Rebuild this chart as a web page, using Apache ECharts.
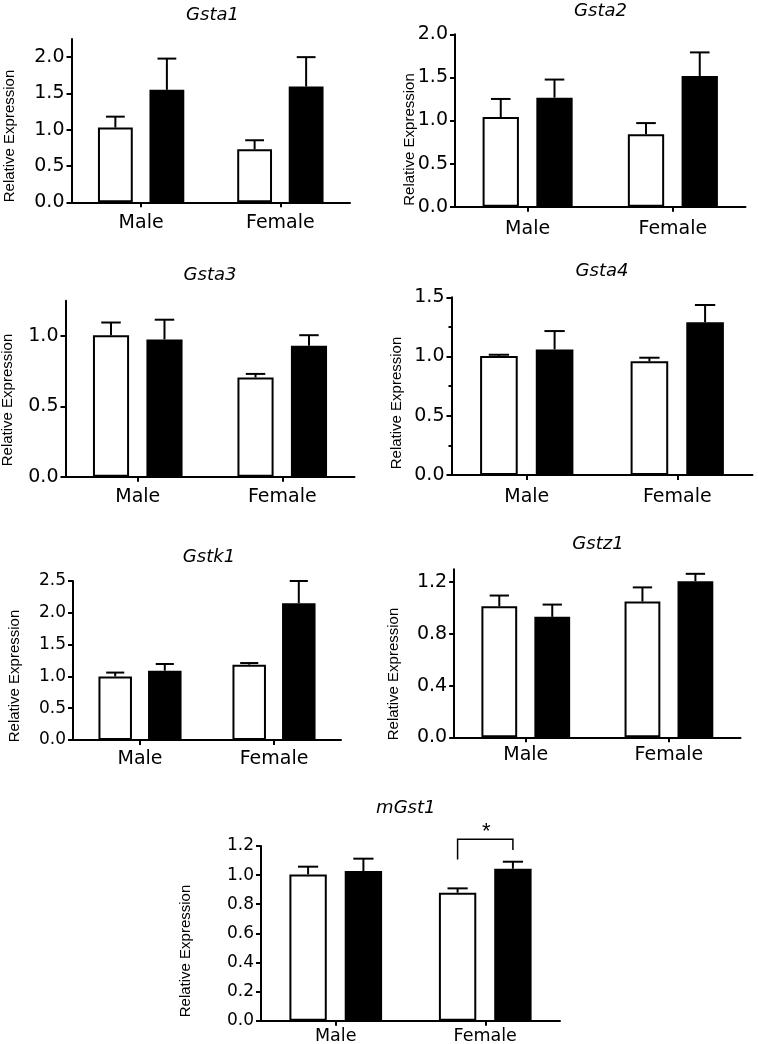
<!DOCTYPE html>
<html>
<head>
<meta charset="utf-8">
<script src="https://cdn.jsdelivr.net/npm/echarts@6/dist/echarts.min.js"></script>
<style>
html,body{margin:0;padding:0;background:#fff;}
#chart{width:758px;height:1044px;}
</style>
</head>
<body>
<div id="chart"></div>
<script>
// ---------- data ----------
const categories = ['Male', 'Female'];
const geneNames = ['Gsta1', 'Gsta2', 'Gsta3', 'Gsta4', 'Gstk1', 'Gstz1', 'mGst1'];
const yAxisTitle = 'Relative Expression';

// open (white) bars and filled (black) bars, with SEM
const gsta1Open = [1.03, 0.73];
const gsta1OpenSem = [0.15, 0.125];
const gsta1Filled = [1.55, 1.595];
const gsta1FilledSem = [0.43, 0.405];

const gsta2Open = [1.04, 0.84];
const gsta2OpenSem = [0.21, 0.13];
const gsta2Filled = [1.265, 1.515];
const gsta2FilledSem = [0.21, 0.275];

const gsta3Open = [1.005, 0.705];
const gsta3OpenSem = [0.09, 0.025];
const gsta3Filled = [0.975, 0.93];
const gsta3FilledSem = [0.14, 0.075];

const gsta4Open = [1.005, 0.96];
const gsta4OpenSem = [0.01, 0.03];
const gsta4Filled = [1.06, 1.29];
const gsta4FilledSem = [0.155, 0.145];

const gstk1Open = [1.0, 1.185];
const gstk1OpenSem = [0.06, 0.025];
const gstk1Filled = [1.09, 2.15];
const gstk1FilledSem = [0.105, 0.35];

const gstz1Open = [1.014, 1.05];
const gstz1OpenSem = [0.083, 0.11];
const gstz1Filled = [0.932, 1.208];
const gstz1FilledSem = [0.095, 0.057];

const mgst1Open = [1.005, 0.879];
const mgst1OpenSem = [0.053, 0.03];
const mgst1Filled = [1.028, 1.044];
const mgst1FilledSem = [0.085, 0.048];

// y-axis tick values and axis maxima
const gsta1Ticks = [0, 0.5, 1.0, 1.5, 2.0];
const gsta2Ticks = [0, 0.5, 1.0, 1.5, 2.0];
const gsta3Ticks = [0, 0.5, 1.0];
const gsta4Ticks = [0, 0.5, 1.0, 1.5];
const gstk1Ticks = [0, 0.5, 1.0, 1.5, 2.0, 2.5];
const gstz1Ticks = [0, 0.4, 0.8, 1.2];
const mgst1Ticks = [0, 0.2, 0.4, 0.6, 0.8, 1.0, 1.2];
const axisMax = [2.25, 2.0, 1.25, 1.5, 2.5, 1.3, 1.2];

// significance bracket on mGst1 (Female): [top, left leg end, right leg end]
const mgst1Bracket = [1.246, 1.108, 1.172];
const mgst1BracketCategory = 1;
const mgst1BracketLabel = '*';

// ---------- assembly ----------
const panels = [
  {open: gsta1Open, openSem: gsta1OpenSem, filled: gsta1Filled, filledSem: gsta1FilledSem, ticks: gsta1Ticks},
  {open: gsta2Open, openSem: gsta2OpenSem, filled: gsta2Filled, filledSem: gsta2FilledSem, ticks: gsta2Ticks},
  {open: gsta3Open, openSem: gsta3OpenSem, filled: gsta3Filled, filledSem: gsta3FilledSem, ticks: gsta3Ticks},
  {open: gsta4Open, openSem: gsta4OpenSem, filled: gsta4Filled, filledSem: gsta4FilledSem, ticks: gsta4Ticks, minor: true},
  {open: gstk1Open, openSem: gstk1OpenSem, filled: gstk1Filled, filledSem: gstk1FilledSem, ticks: gstk1Ticks},
  {open: gstz1Open, openSem: gstz1OpenSem, filled: gstz1Filled, filledSem: gstz1FilledSem, ticks: gstz1Ticks},
  {open: mgst1Open, openSem: mgst1OpenSem, filled: mgst1Filled, filledSem: mgst1FilledSem, ticks: mgst1Ticks}
];

// layout (pixels)
const layout = [
  {left: 71.5, top: 39, width: 278.5, height: 163.3, tx: 212.5, ty: 15, yx: 9.5, yy: 136, num: 19, cat: 19, cm: 11},
  {left: 455, top: 34.3, width: 290.5, height: 172.4, tx: 600.5, ty: 11, yx: 410, yy: 139.5, num: 19, cat: 19, cm: 12.5},
  {left: 65.5, top: 300.7, width: 289, height: 176, tx: 210, ty: 275.5, yx: 8, yy: 400, num: 19, cat: 19, cm: 11},
  {left: 451.5, top: 297.3, width: 301, height: 177.7, tx: 602, ty: 271, yx: 397, yy: 403, num: 19, cat: 19, cm: 12.5},
  {left: 73, top: 581, width: 268, height: 159, tx: 209, ty: 557, yx: 15, yy: 676, num: 17, cat: 19, cm: 9.5},
  {left: 454.2, top: 569.3, width: 286.3, height: 168, tx: 598, ty: 544.5, yx: 394.3, yy: 674, num: 19, cat: 19, cm: 8.5},
  {left: 261, top: 846, width: 299, height: 174.7, tx: 405.8, ty: 808.5, yx: 186.2, yy: 951, num: 17, cat: 17.5, cm: 7}
];

const BAR_W = 0.25;
const BAR_GAP = 0.48;
const BAR_OFFSET = BAR_W * (1 + BAR_GAP) / 2;
const CAP_W = 0.135;
const BLACK = '#000000';

function errorRender(params, api) {
  const ci = api.value(0), v = api.value(1), e = api.value(2), side = api.value(3);
  const band = api.size([1, 0])[0];
  const base = api.coord([ci, v]);
  const top = api.coord([ci, v + e]);
  const x = base[0] + side * band * BAR_OFFSET;
  const cap = band * CAP_W;
  return {
    type: 'group',
    children: [
      {type: 'line', shape: {x1: x, y1: base[1], x2: x, y2: top[1]}, style: {stroke: BLACK, lineWidth: 2}},
      {type: 'line', shape: {x1: x - cap / 2, y1: top[1], x2: x + cap / 2, y2: top[1]}, style: {stroke: BLACK, lineWidth: 2}}
    ]
  };
}

function bracketRender(params, api) {
  const ci = api.value(0);
  const band = api.size([1, 0])[0];
  const topPt = api.coord([ci, api.value(1)]);
  const leftEnd = api.coord([ci, api.value(2)]);
  const rightEnd = api.coord([ci, api.value(3)]);
  const xl = topPt[0] - band * BAR_OFFSET;
  const xr = topPt[0] + band * BAR_OFFSET;
  return {
    type: 'group',
    children: [
      {type: 'polyline', shape: {points: [[xl, leftEnd[1]], [xl, topPt[1]], [xr, topPt[1]], [xr, rightEnd[1]]]},
       style: {stroke: BLACK, lineWidth: 1.5, fill: null}},
      {type: 'text', x: topPt[0] + 1, y: topPt[1] + 4,
       style: {text: mgst1BracketLabel, fill: BLACK, fontSize: 22, fontFamily: 'Liberation Sans', align: 'center', verticalAlign: 'bottom'}}
    ]
  };
}

const grid = [], xAxis = [], yAxis = [], series = [], graphic = [];

panels.forEach((p, i) => {
  const L = layout[i];
  grid.push({left: L.left, top: L.top, width: L.width, height: L.height, containLabel: false, outerBoundsMode: 'none'});
  xAxis.push({
    type: 'category', gridIndex: i, data: categories,
    axisLine: {show: true, lineStyle: {color: BLACK, width: 2}},
    axisTick: {show: true, alignWithLabel: true, length: 5, lineStyle: {color: BLACK, width: 2}},
    axisLabel: {color: BLACK, fontFamily: 'DejaVu Sans', fontSize: L.cat, margin: L.cm},
    splitLine: {show: false}
  });
  const y = {
    type: 'value', gridIndex: i, min: 0, max: axisMax[i],
    axisLine: {show: true, lineStyle: {color: BLACK, width: 2}},
    axisTick: {show: true, length: 5, lineStyle: {color: BLACK, width: 2}},
    axisLabel: {color: BLACK, fontFamily: 'DejaVu Sans', fontSize: L.num, margin: 7, formatter: v => v.toFixed(1)},
    splitLine: {show: false}
  };
  if (p.minor) {
    y.interval = p.ticks[1] - p.ticks[0];
    y.minorTick = {show: true, splitNumber: 2, length: 3, lineStyle: {color: BLACK, width: 2}};
    y.minorSplitLine = {show: false};
  } else {
    y.axisTick.customValues = p.ticks;
    y.axisLabel.customValues = p.ticks;
  }
  yAxis.push(y);

  series.push({
    type: 'bar', xAxisIndex: i, yAxisIndex: i, data: p.open,
    barWidth: (BAR_W * 100) + '%', barGap: (BAR_GAP * 100) + '%',
    itemStyle: {color: '#ffffff', borderColor: BLACK, borderWidth: 2}, silent: true
  });
  series.push({
    type: 'bar', xAxisIndex: i, yAxisIndex: i, data: p.filled,
    barWidth: (BAR_W * 100) + '%', barGap: (BAR_GAP * 100) + '%',
    itemStyle: {color: BLACK, borderColor: BLACK, borderWidth: 2}, silent: true
  });
  const errData = categories.map((c, k) => [k, p.open[k], p.openSem[k], -1])
    .concat(categories.map((c, k) => [k, p.filled[k], p.filledSem[k], 1]));
  series.push({
    type: 'custom', xAxisIndex: i, yAxisIndex: i, data: errData, renderItem: errorRender,
    z: 5, silent: true, clip: false
  });

  graphic.push({
    type: 'text', x: L.tx, y: L.ty,
    style: {text: geneNames[i], fill: BLACK, fontSize: 18, fontStyle: 'italic', fontFamily: 'DejaVu Sans', align: 'center', verticalAlign: 'middle'}
  });
  graphic.push({
    type: 'text', x: L.yx, y: L.yy, rotation: Math.PI / 2,
    style: {text: yAxisTitle, fill: BLACK, fontSize: 15, fontFamily: 'Liberation Sans', align: 'center', verticalAlign: 'middle'}
  });
});

series.push({
  type: 'custom', xAxisIndex: 6, yAxisIndex: 6,
  data: [[mgst1BracketCategory, mgst1Bracket[0], mgst1Bracket[1], mgst1Bracket[2]]],
  renderItem: bracketRender, z: 5, silent: true, clip: false
});

const chart = echarts.init(document.getElementById('chart'), null, {renderer: 'canvas'});
chart.setOption({
  backgroundColor: '#ffffff',
  animation: false,
  grid, xAxis, yAxis, series, graphic
});
</script>
</body>
</html>
